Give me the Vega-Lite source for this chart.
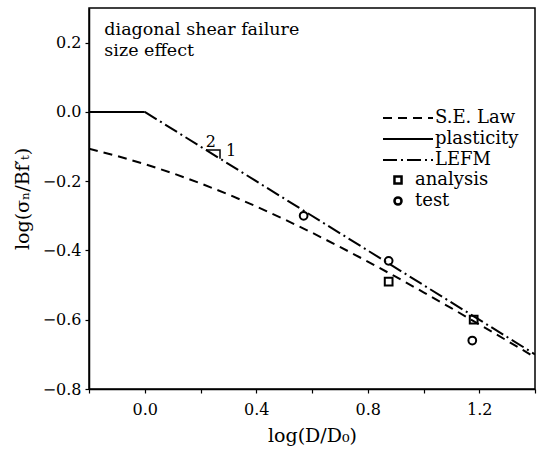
{
  "$schema": "https://vega.github.io/schema/vega-lite/v6.json",
  "width": 446,
  "height": 381,
  "autosize": {"type": "none"},
  "padding": {"left": 89, "top": 8, "right": 2, "bottom": 66},
  "background": "white",
  "config": {
    "view": {"stroke": "black", "strokeWidth": 1.5},
    "font": "DejaVu Serif",
    "axis": {
      "labelFont": "DejaVu Serif",
      "labelFontSize": 16,
      "labelColor": "black",
      "titleFont": "DejaVu Serif",
      "titleFontSize": 19,
      "titleFontWeight": "normal",
      "titleColor": "black",
      "domainColor": "black",
      "domainWidth": 1.5,
      "tickColor": "black",
      "tickWidth": 1.2,
      "grid": false
    },
    "legend": {
      "labelFont": "DejaVu Serif",
      "labelFontSize": 18,
      "labelColor": "black"
    }
  },
  "layer": [
    {
      "data": {
        "values": [
          {"x": -0.2, "y": 0.0, "series": "plasticity"},
          {"x": 0.0, "y": 0.0, "series": "plasticity"},
          {"x": 0.0, "y": 0.0, "series": "LEFM"},
          {"x": 1.4, "y": -0.7, "series": "LEFM"},
          {"x": -0.2, "y": -0.1062, "series": "S.E. Law"},
          {"x": -0.1, "y": -0.127, "series": "S.E. Law"},
          {"x": 0.0, "y": -0.1505, "series": "S.E. Law"},
          {"x": 0.1, "y": -0.177, "series": "S.E. Law"},
          {"x": 0.2, "y": -0.2062, "series": "S.E. Law"},
          {"x": 0.3, "y": -0.2382, "series": "S.E. Law"},
          {"x": 0.4, "y": -0.2728, "series": "S.E. Law"},
          {"x": 0.5, "y": -0.3097, "series": "S.E. Law"},
          {"x": 0.6, "y": -0.3487, "series": "S.E. Law"},
          {"x": 0.7, "y": -0.3895, "series": "S.E. Law"},
          {"x": 0.8, "y": -0.432, "series": "S.E. Law"},
          {"x": 0.9, "y": -0.4758, "series": "S.E. Law"},
          {"x": 1.0, "y": -0.5207, "series": "S.E. Law"},
          {"x": 1.1, "y": -0.5666, "series": "S.E. Law"},
          {"x": 1.2, "y": -0.6133, "series": "S.E. Law"},
          {"x": 1.3, "y": -0.6606, "series": "S.E. Law"},
          {"x": 1.4, "y": -0.7085, "series": "S.E. Law"}
        ]
      },
      "mark": {"type": "line", "color": "black", "strokeWidth": 2, "clip": true},
      "encoding": {
        "x": {
          "field": "x", "type": "quantitative",
          "scale": {"domain": [-0.2, 1.4], "nice": false, "zero": false},
          "axis": {
            "title": "log(D/D₀)",
            "values": [-0.2, -0.1, 0, 0.1, 0.2, 0.3, 0.4, 0.5, 0.6, 0.7, 0.8, 0.9, 1.0, 1.1, 1.2, 1.3, 1.4],
            "labelExpr": "abs(round(datum.value*10)) % 4 == 0 ? format(datum.value, '.1f') : ''",
            "tickSize": 4,
            "labelPadding": 8,
            "titlePadding": 9
          }
        },
        "y": {
          "field": "y", "type": "quantitative",
          "scale": {"domain": [-0.8, 0.3], "nice": false, "zero": false},
          "axis": {
            "title": "log(σₙ/Bf′ₜ)",
            "values": [-0.8, -0.7, -0.6, -0.5, -0.4, -0.3, -0.2, -0.1, 0, 0.1, 0.2, 0.3],
            "labelExpr": "abs(round(datum.value*10)) % 2 == 0 ? format(datum.value, '.1f') : ''",
            "tickSize": 4,
            "labelPadding": 4,
            "titlePadding": 10
          }
        },
        "detail": {"field": "series"},
        "strokeDash": {
          "field": "series", "type": "nominal",
          "scale": {
            "domain": ["S.E. Law", "plasticity", "LEFM"],
            "range": [[9, 6], [1, 0], [14, 4, 2, 4]]
          },
          "legend": {
            "title": null,
            "orient": "none",
            "legendX": 290,
            "legendY": 101,
            "symbolType": "M-1,0H9",
            "symbolSize": 100,
            "symbolStrokeWidth": 2,
            "symbolStrokeColor": "black",
            "labelOffset": 38,
            "rowPadding": 3
          }
        }
      }
    },
    {
      "data": {
        "values": [
          {"x": 0.57, "y": -0.30, "type": "test"},
          {"x": 0.875, "y": -0.43, "type": "test"},
          {"x": 1.175, "y": -0.66, "type": "test"},
          {"x": 0.875, "y": -0.49, "type": "analysis"},
          {"x": 1.18, "y": -0.60, "type": "analysis"}
        ]
      },
      "mark": {"type": "point", "filled": false, "color": "black", "strokeWidth": 2, "size": 60, "opacity": 1},
      "encoding": {
        "x": {"field": "x", "type": "quantitative"},
        "y": {"field": "y", "type": "quantitative"},
        "shape": {
          "field": "type", "type": "nominal",
          "scale": {"domain": ["analysis", "test"], "range": ["square", "circle"]},
          "legend": {
            "title": null,
            "orient": "none",
            "legendX": 300,
            "legendY": 163,
            "symbolSize": 50,
            "symbolStrokeWidth": 2.5,
            "symbolStrokeColor": "black",
            "symbolFillColor": "white",
            "labelOffset": 8,
            "rowPadding": 3
          }
        }
      }
    },
    {
      "data": {"values": [
        {"x": 0.22, "y": -0.11},
        {"x": 0.27, "y": -0.11},
        {"x": 0.27, "y": -0.135}
      ]},
      "mark": {"type": "line", "color": "black", "strokeWidth": 1.5},
      "encoding": {
        "x": {"field": "x", "type": "quantitative"},
        "y": {"field": "y", "type": "quantitative"}
      }
    },
    {
      "data": {"values": [
        {"x": 0.237, "y": -0.086, "t": "2"},
        {"x": 0.31, "y": -0.112, "t": "1"}
      ]},
      "mark": {"type": "text", "font": "DejaVu Serif", "fontSize": 16, "color": "black"},
      "encoding": {
        "x": {"field": "x", "type": "quantitative"},
        "y": {"field": "y", "type": "quantitative"},
        "text": {"field": "t"}
      }
    },
    {
      "data": {"values": [{}]},
      "mark": {
        "type": "text",
        "text": ["diagonal shear failure", "size effect"],
        "align": "left",
        "baseline": "top",
        "lineHeight": 21,
        "font": "DejaVu Serif",
        "fontSize": 17.5,
        "color": "black"
      },
      "encoding": {
        "x": {"datum": -0.145},
        "y": {"datum": 0.262}
      }
    }
  ]
}
